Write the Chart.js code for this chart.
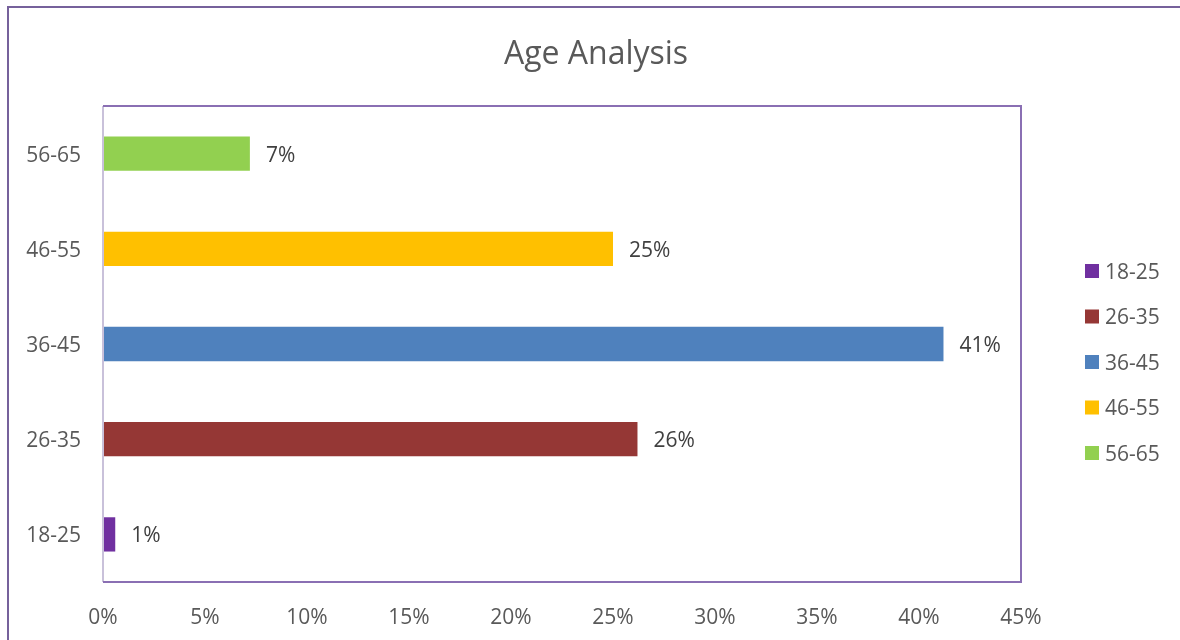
<!DOCTYPE html>
<html>
<head>
<meta charset="utf-8">
<script src="https://cdn.jsdelivr.net/npm/chart.js@4.4.1/dist/chart.umd.min.js"></script>
<style>
  html, body { margin: 0; padding: 0; background: #fff; }
  #wrap { width: 1180px; height: 640px; }
</style>
</head>
<body>
<div id="wrap"><canvas id="ageChart" width="1180" height="640"></canvas></div>
<script>
// datos
const grupos = ['18-25', '26-35', '36-45', '46-55', '56-65'];
const porcentajes = [0.6, 26.2, 41.2, 25.0, 7.2];
const colores = ['#7030a0', '#953735', '#4f81bd', '#ffc000', '#92d050'];
const ticksX = [0, 5, 10, 15, 20, 25, 30, 35, 40, 45];
const titulo = 'Age Analysis';

const fuente = '"Open Sans", sans-serif';
const gris = '#595959';

// marcos, titulo, etiquetas y leyenda
const decorado = {
    id: 'decorado',
    beforeDraw(chart) {
        const c = chart.ctx;
        c.save();
        c.fillStyle = '#fff';
        c.fillRect(0, 0, chart.width, chart.height);
        c.strokeStyle = '#76619b';
        c.lineWidth = 2;
        c.beginPath();
        c.moveTo(8, chart.height + 2);
        c.lineTo(8, 7);
        c.lineTo(chart.width + 2, 7);
        c.stroke();

        c.font = '32px ' + fuente;
        c.fillStyle = gris;
        c.textAlign = 'center';
        c.textBaseline = 'middle';
        c.fillText(titulo, 596, 55);
        c.restore();
    },
    afterDatasetsDraw(chart) {
        const c = chart.ctx;
        const a = chart.chartArea;
        c.save();
        // borde del area de trazado
        c.strokeStyle = '#c9c1da';
        c.lineWidth = 2;
        c.beginPath();
        c.moveTo(a.left, a.top);
        c.lineTo(a.left, a.bottom);
        c.stroke();
        c.strokeStyle = '#8a6fb3';
        c.beginPath();
        c.moveTo(a.left, a.top);
        c.lineTo(a.right, a.top);
        c.lineTo(a.right, a.bottom);
        c.lineTo(a.left, a.bottom);
        c.stroke();

        // etiquetas de datos
        const meta = chart.getDatasetMeta(0);
        c.font = '21px ' + fuente;
        c.fillStyle = '#404040';
        c.textAlign = 'left';
        c.textBaseline = 'middle';
        meta.data.forEach((bar, i) => {
            c.fillText(Math.round(porcentajes[i]) + '%', bar.x + 16, bar.y + 2);
        });

        // leyenda
        grupos.forEach((g, i) => {
            const y = 271 + i * 45.5;
            c.fillStyle = colores[i];
            c.fillRect(1085, y - 7, 14, 14);
            c.fillStyle = gris;
            c.fillText(g, 1105, y + 2);
        });
        c.restore();
    }
};

const ctx = document.getElementById('ageChart').getContext('2d');
new Chart(ctx, {
    type: 'bar',
    data: {
        labels: grupos,
        datasets: [{
            label: 'Age',
            data: porcentajes,
            backgroundColor: colores,
            borderWidth: 0,
            categoryPercentage: 1,
            barPercentage: 0.36
        }]
    },
    options: {
        indexAxis: 'y',
        responsive: false,
        animation: false,
        layout: { padding: { left: 0, right: 159, top: 106, bottom: 0 } },
        plugins: {
            legend: { display: false },
            tooltip: { enabled: false },
            title: { display: false }
        },
        scales: {
            x: {
                min: 0,
                max: 45,
                afterBuildTicks: scale => { scale.ticks = ticksX.map(v => ({ value: v })); },
                afterFit: scale => { scale.height = 58; },
                grid: { display: false, drawTicks: false },
                border: { display: false },
                ticks: {
                    padding: 23,
                    color: gris,
                    font: { family: fuente, size: 21 },
                    callback: v => v + '%'
                }
            },
            y: {
                reverse: true,
                afterFit: scale => { scale.width = 103; },
                grid: { display: false, drawTicks: false },
                border: { display: false },
                ticks: {
                    padding: 22,
                    color: gris,
                    font: { family: fuente, size: 21 },
                    labelOffset: 2
                }
            }
        }
    },
    plugins: [decorado]
});
</script>
</body>
</html>
